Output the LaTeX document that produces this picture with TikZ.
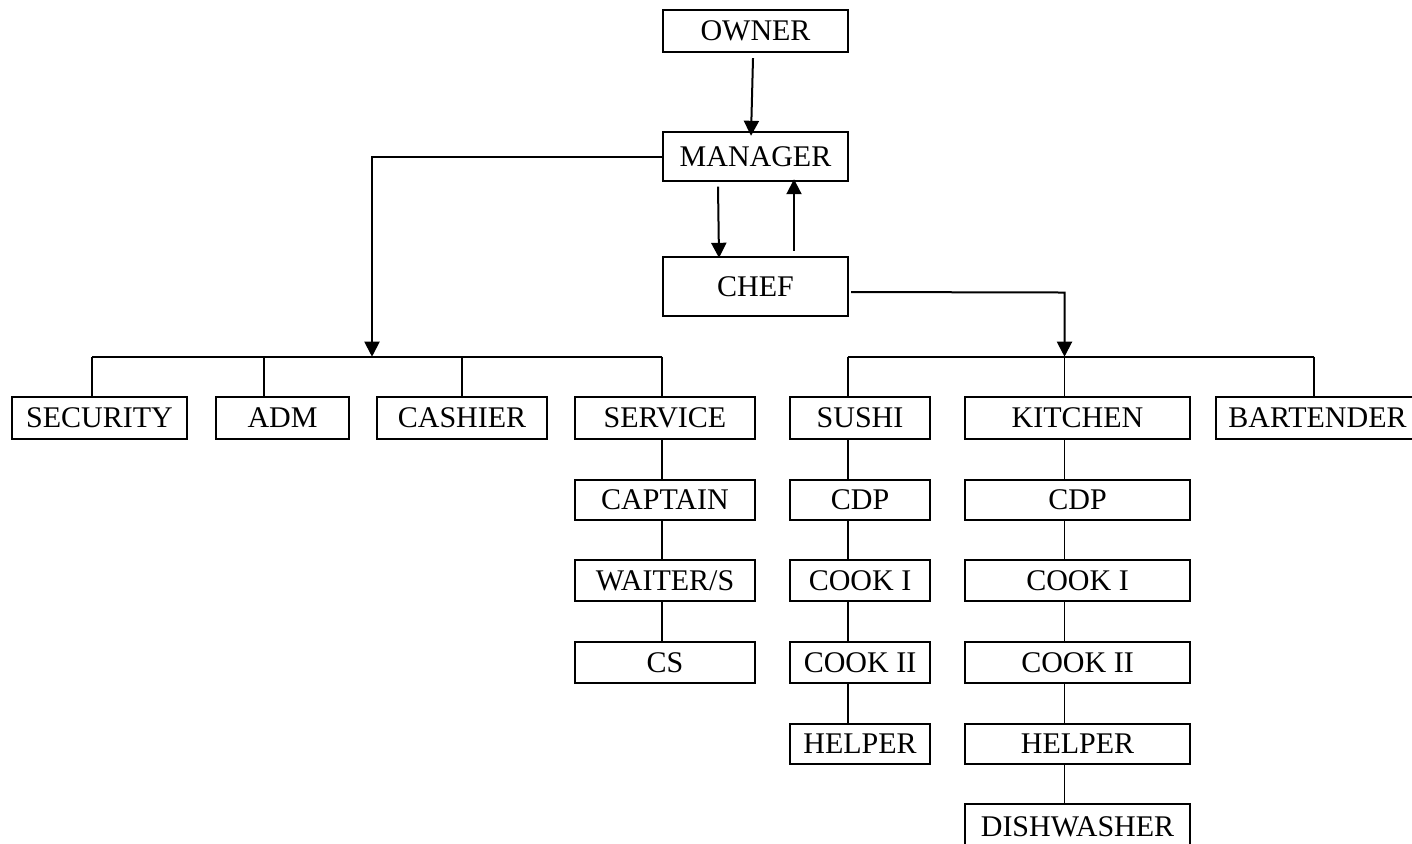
\documentclass[tikz,border=0pt]{standalone}
\usepackage{fontspec}
\setmainfont{Liberation Serif}
\usetikzlibrary{arrows.meta,calc}
\begin{document}
\begin{tikzpicture}[x=0.5pt,y=-0.5pt,
  box/.style={draw, line width=1.2pt, inner sep=0pt, text height=9.9pt, text depth=0pt, font=\fontsize{15}{18}\selectfont},
  rowbox/.style={box, minimum height=21pt},
  thickln/.style={line width=1.1pt},
  thinln/.style={line width=0.55pt},
  arr/.style={line width=1pt, -{Triangle[length=7.5pt,width=7.5pt]}}]
\useasboundingbox (0,0) rectangle (1412,843);
\clip (0,0) rectangle (1412,843);
% top
\node[box, minimum width=92.5pt, minimum height=21pt] (owner) at (755.5,31) {OWNER};
\node[box, minimum width=92.5pt, minimum height=24.5pt] (manager) at (755.5,156.5) {MANAGER};
\node[box, minimum width=92.5pt, minimum height=29.5pt] (chef) at (755.5,286.5) {CHEF};
% left row
\node[rowbox, minimum width=87.5pt] (security) at (99.5,418) {SECURITY};
\node[rowbox, minimum width=66.5pt] (adm) at (282.5,418) {ADM};
\node[rowbox, minimum width=85pt] (cashier) at (462,418) {CASHIER};
\node[rowbox, minimum width=90pt] (service) at (665,418) {SERVICE};
\node[box, minimum width=90pt, minimum height=20pt] (captain) at (665,500) {CAPTAIN};
\node[box, minimum width=90pt, minimum height=20.5pt] (waiter) at (665,580.5) {WAITER/S};
\node[box, minimum width=90pt, minimum height=20.5pt] (cs) at (665,662.5) {CS};
% right row
\node[rowbox, minimum width=70pt] (sushi) at (860,418) {SUSHI};
\node[rowbox, minimum width=112.5pt] (kitchen) at (1077.5,418) {KITCHEN};
\node[rowbox, minimum width=101.5pt] (bartender) at (1317.5,418) {BARTENDER};
\node[box, minimum width=70pt, minimum height=20pt] (cdpa) at (860,500) {CDP};
\node[box, minimum width=70pt, minimum height=20.5pt] (cookia) at (860,580.5) {COOK I};
\node[box, minimum width=70pt, minimum height=20.5pt] (cookiia) at (860,662.5) {COOK II};
\node[box, minimum width=70pt, minimum height=20pt] (helpera) at (860,744) {HELPER};
\node[box, minimum width=112.5pt, minimum height=20pt] (cdpb) at (1077.5,500) {CDP};
\node[box, minimum width=112.5pt, minimum height=20.5pt] (cookib) at (1077.5,580.5) {COOK I};
\node[box, minimum width=112.5pt, minimum height=20.5pt] (cookiib) at (1077.5,662.5) {COOK II};
\node[box, minimum width=112.5pt, minimum height=20pt] (helperb) at (1077.5,744) {HELPER};
\node[box, minimum width=112.5pt, minimum height=23pt] (dish) at (1077.5,827) {DISHWASHER};
% bus coordinates
\coordinate (lb1) at (92,356.7);
\coordinate (lb2) at (264,356.7);
\coordinate (lb3) at (462,356.7);
\coordinate (lb4) at (662,356.7);
\coordinate (larr) at (372,356.7);
\coordinate (lbend) at (372,156.5);
\coordinate (rb1) at (847.7,356.7);
\coordinate (rb2) at (1064.5,356.7);
\coordinate (rb3) at (1314,356.7);
\coordinate (rbend) at (1064.5,292.5);
% arrows
\draw[arr] ($(owner.south)+(-2.5,5)$) -- ($(manager.north)+(-4.5,5)$);
\draw[arr] ($(manager.south)+(-37.5,4.5)$) -- ($(chef.north)+(-36.5,2)$);
\draw[arr] ($(chef.north)+(38.5,-5)$) -- ($(manager.south)+(38.5,-3)$);
\draw[arr] (manager.west) -- (lbend) -- (larr);
\draw[arr] ($(chef.east)+(2,5.5)$) -- (rbend) -- (rb2);
% left tree
\draw[thickln] (lb1) -- (lb4);
\draw[thickln] (lb1) -- (lb1 |- security.north);
\draw[thickln] (lb2) -- (lb2 |- adm.north);
\draw[thickln] (lb3) -- (lb3 |- cashier.north);
\draw[thickln] (lb4) -- (lb4 |- service.north);
\draw[thickln] (service.south -| lb4) -- (captain.north -| lb4);
\draw[thickln] (captain.south -| lb4) -- (waiter.north -| lb4);
\draw[thickln] (waiter.south -| lb4) -- (cs.north -| lb4);
% right tree
\draw[thickln] (rb1) -- (rb3);
\draw[thickln] (rb1) -- (rb1 |- sushi.north);
\draw[thinln] (rb2) -- (rb2 |- kitchen.north);
\draw[thickln] (rb3) -- (rb3 |- bartender.north);
\draw[thickln] (sushi.south -| rb1) -- (cdpa.north -| rb1);
\draw[thickln] (cdpa.south -| rb1) -- (cookia.north -| rb1);
\draw[thickln] (cookia.south -| rb1) -- (cookiia.north -| rb1);
\draw[thickln] (cookiia.south -| rb1) -- (helpera.north -| rb1);
\draw[thinln] (kitchen.south -| rb2) -- (cdpb.north -| rb2);
\draw[thinln] (cdpb.south -| rb2) -- (cookib.north -| rb2);
\draw[thinln] (cookib.south -| rb2) -- (cookiib.north -| rb2);
\draw[thinln] (cookiib.south -| rb2) -- (helperb.north -| rb2);
\draw[thinln] (helperb.south -| rb2) -- (dish.north -| rb2);
\end{tikzpicture}
\end{document}
